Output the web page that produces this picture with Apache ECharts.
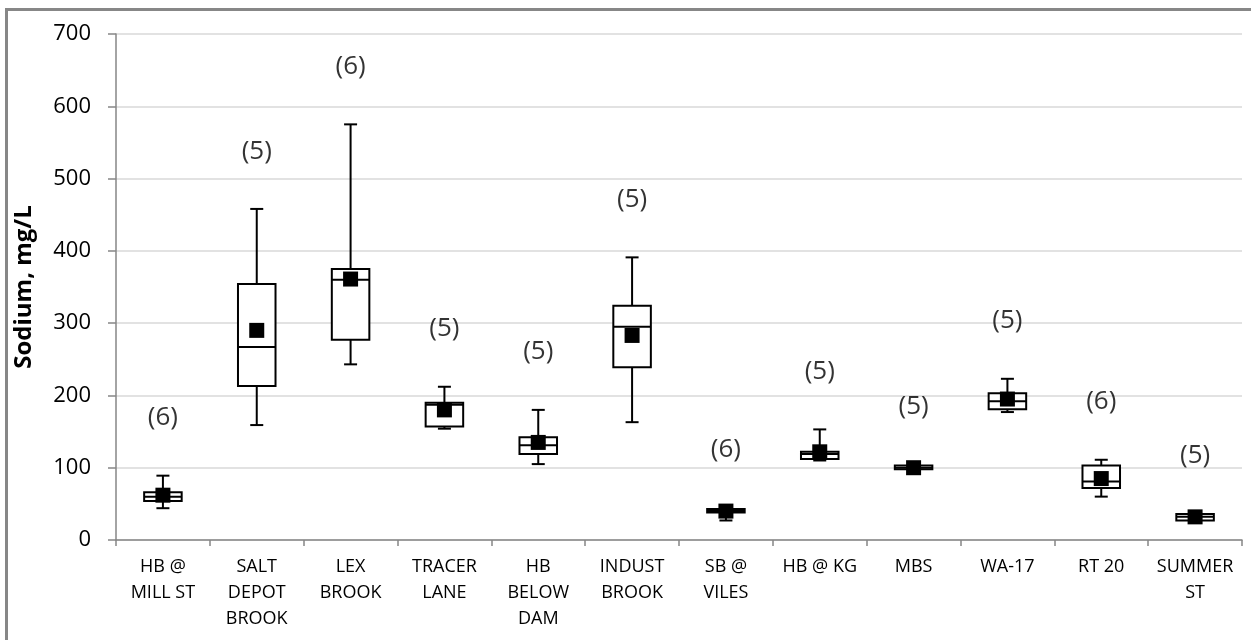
<!DOCTYPE html>
<html>
<head>
<meta charset="utf-8">
<script src="https://cdn.jsdelivr.net/npm/echarts@6/dist/echarts.min.js"></script>
<style>
  html, body { margin: 0; padding: 0; background: #ffffff; }
  #chart { width: 1251px; height: 640px; }
</style>
</head>
<body>
<div id="chart"></div>
<script>
// Sampling sites along the x axis
const sites = ['HB @\nMILL ST', 'SALT\nDEPOT\nBROOK', 'LEX\nBROOK', 'TRACER\nLANE', 'HB\nBELOW\nDAM',
  'INDUST\nBROOK', 'SB @\nVILES', 'HB @ KG', 'MBS', 'WA-17', 'RT 20', 'SUMMER\nST'];

// Sodium (mg/L) five-number summaries per site
const minValues    = [44, 159, 243, 154, 105, 163, 27, 110, 97, 177, 60, 27];
const q1Values     = [54, 213, 277, 157, 119, 239, 38, 112, 98, 181, 72, 27];
const medianValues = [60, 267, 360, 187, 131, 295, 40, 119, 100, 192, 81, 32];
const q3Values     = [66, 354, 375, 190, 142, 324, 43, 122, 103, 203, 103, 36];
const maxValues    = [89, 458, 575, 212, 180, 391, 45, 153, 104, 223, 111, 37];
const meanValues   = [62, 290, 361, 180, 135, 283, 40, 122, 100, 195, 85, 32];

// Number of samples per site
const sampleCounts = [6, 5, 6, 5, 5, 5, 6, 5, 5, 5, 6, 5];

// Y axis ticks
const yTicks = [0, 100, 200, 300, 400, 500, 600, 700];

const FONT = '"Open Sans", "Noto Sans", sans-serif';
const AXIS_GRAY = '#868686';

const boxData = sites.map((s, i) => [i, minValues[i], q1Values[i], medianValues[i], q3Values[i], maxValues[i]]);
const meanData = sites.map((s, i) => [i, meanValues[i]]);
// count annotations sit a fixed distance above each upper whisker
const countData = sites.map((s, i) => [i, maxValues[i] + 80, sampleCounts[i]]);

function renderBox(params, api) {
  const i = api.value(0);
  const bandW = api.size([1, 0])[0];
  const boxW = bandW * 0.4;
  const capW = 13;
  const x = api.coord([i, 0])[0];
  const yMin = api.coord([i, api.value(1)])[1];
  const yQ1 = api.coord([i, api.value(2)])[1];
  const yMed = api.coord([i, api.value(3)])[1];
  const yQ3 = api.coord([i, api.value(4)])[1];
  const yMax = api.coord([i, api.value(5)])[1];
  const line = { stroke: '#000', lineWidth: 2 };
  return {
    type: 'group',
    children: [
      { type: 'line', shape: { x1: x, y1: yQ3, x2: x, y2: yMax }, style: line },
      { type: 'line', shape: { x1: x - capW / 2, y1: yMax, x2: x + capW / 2, y2: yMax }, style: line },
      { type: 'line', shape: { x1: x, y1: yQ1, x2: x, y2: yMin }, style: line },
      { type: 'line', shape: { x1: x - capW / 2, y1: yMin, x2: x + capW / 2, y2: yMin }, style: line },
      { type: 'rect', shape: { x: x - boxW / 2, y: yQ3, width: boxW, height: yQ1 - yQ3 },
        style: { fill: '#fff', stroke: '#000', lineWidth: 2 } },
      { type: 'line', shape: { x1: x - boxW / 2, y1: yMed, x2: x + boxW / 2, y2: yMed }, style: line }
    ]
  };
}

const chart = echarts.init(document.getElementById('chart'), null, { renderer: 'canvas' });
chart.setOption({
  backgroundColor: '#ffffff',
  animation: false,
  grid: { left: 116, right: 9, top: 34, bottom: 100 },
  graphic: [
    { type: 'line', shape: { x1: 6.5, y1: 8, x2: 6.5, y2: 640 }, style: { stroke: '#878787', lineWidth: 3 } },
    { type: 'line', shape: { x1: 5, y1: 9.5, x2: 1251, y2: 9.5 }, style: { stroke: '#878787', lineWidth: 3 } }
  ],
  xAxis: {
    type: 'category',
    data: sites,
    boundaryGap: true,
    axisLine: { lineStyle: { color: AXIS_GRAY, width: 1.5 } },
    axisTick: { show: true, length: 6, lineStyle: { color: AXIS_GRAY, width: 1.5 } },
    axisLabel: {
      interval: 0, color: '#000', fontFamily: FONT, fontSize: 18, lineHeight: 26, margin: 14
    },
    splitLine: { show: false }
  },
  yAxis: {
    type: 'value',
    min: yTicks[0],
    max: yTicks[yTicks.length - 1],
    interval: 100,
    name: 'Sodium, mg/L',
    nameLocation: 'middle',
    nameGap: 80,
    nameRotate: 90,
    nameTextStyle: { color: '#000', fontFamily: FONT, fontSize: 24, fontWeight: 'bold' },
    axisLine: { show: true, lineStyle: { color: AXIS_GRAY, width: 1.5 } },
    axisTick: { show: true, length: 8, lineStyle: { color: AXIS_GRAY, width: 1.5 } },
    axisLabel: { color: '#000', fontFamily: FONT, fontSize: 22, margin: 25 },
    splitLine: { lineStyle: { color: '#d9d9d9', width: 1.5 } }
  },
  series: [
    {
      type: 'custom',
      renderItem: renderBox,
      data: boxData,
      encode: { x: 0, y: [1, 2, 3, 4, 5] },
      z: 3
    },
    {
      type: 'scatter',
      data: meanData,
      symbol: 'rect',
      symbolSize: 15,
      itemStyle: { color: '#000', opacity: 1 },
      z: 5
    },
    {
      type: 'scatter',
      data: countData,
      symbolSize: 1,
      itemStyle: { color: 'rgba(0,0,0,0)' },
      label: {
        show: true,
        position: 'inside',
        formatter: p => '(' + p.value[2] + ')',
        color: '#000',
        fontFamily: FONT,
        fontSize: 26
      },
      z: 4
    }
  ]
});
</script>
</body>
</html>
